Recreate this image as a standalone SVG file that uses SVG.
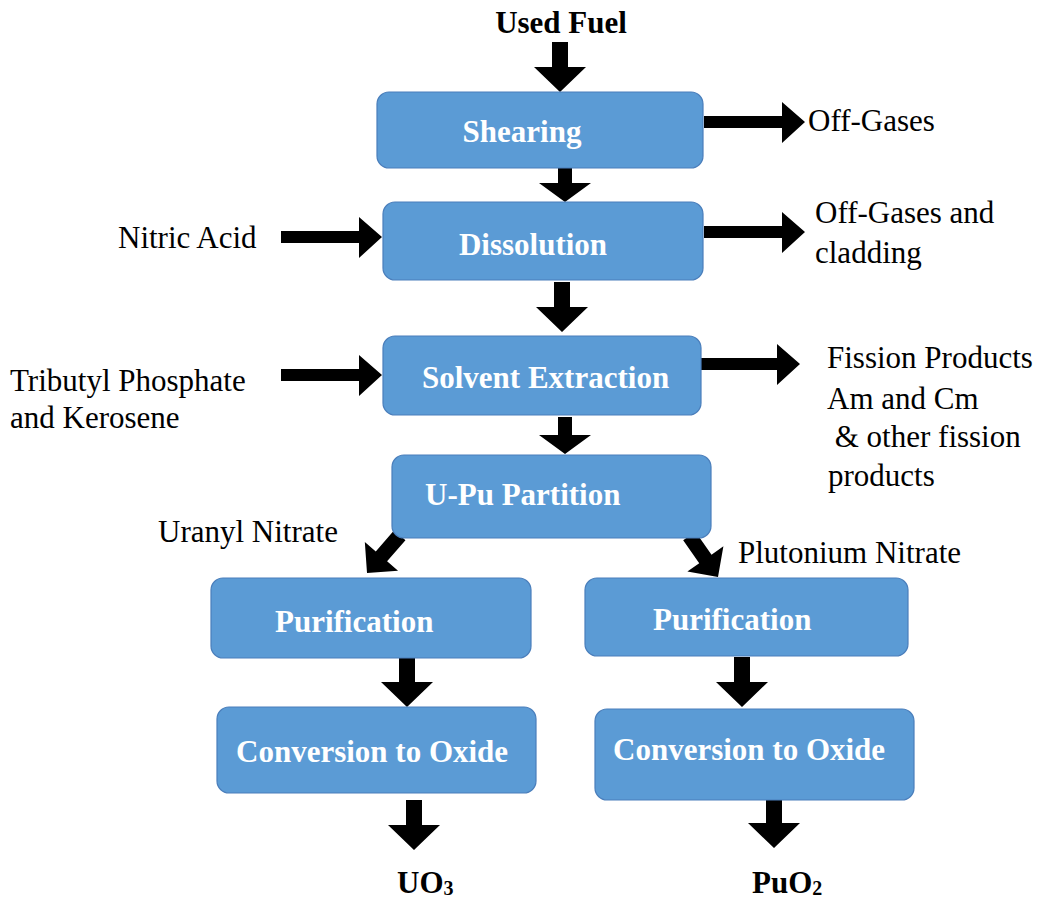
<svg xmlns="http://www.w3.org/2000/svg" width="1043" height="900" viewBox="0 0 1043 900">
  <style>
    .box { fill: #5B9BD5; stroke: #4A7EBB; stroke-width: 1.2; }
    .lbl { font-family: "Liberation Serif", Tinos, "Times New Roman", "DejaVu Serif", serif; font-size: 31px; font-weight: bold; fill: #FFFFFF; }
    .txt { font-family: "Liberation Serif", Tinos, "Times New Roman", "DejaVu Serif", serif; font-size: 31px; font-weight: normal; fill: #000000; }
    .bold { font-weight: bold; }
    .arrow { fill: #000000; }
  </style>
  <defs>
    <!-- block arrow pointing down (+y), tip at origin -->
    <path id="arrowV" d="M -8,-50 L 8,-50 L 8,-25 L 26,-25 L 0,0 L -26,-25 L -8,-25 Z"/>
    <path id="arrowShort" d="M -7,-37 L 7,-37 L 7,-19 L 26,-19 L 0,0 L -26,-19 L -7,-19 Z"/>
    <path id="arrowDiag" d="M -7.5,-50 L 7.5,-50 L 7.5,-22 L 22,-22 L 0,0 L -22,-22 L -7.5,-22 Z"/>
    <!-- block arrow pointing right (+x), tip at origin -->
    <path id="arrowH" d="M -101,-6 L -23,-6 L -23,-20 L 0,0 L -23,21 L -23,6 L -101,6 Z"/>
  </defs>

  <!-- connectors -->
  <g id="connectors" class="arrow">
    <use href="#arrowV" transform="translate(560,92)"/>
    <use href="#arrowShort" transform="translate(565,202)"/>
    <use href="#arrowV" transform="translate(562,332)"/>
    <use href="#arrowShort" transform="translate(565,454)"/>
    <use href="#arrowV" transform="translate(407,707)"/>
    <use href="#arrowV" transform="translate(414,850)"/>
    <use href="#arrowV" transform="translate(742,707)"/>
    <use href="#arrowV" transform="translate(774,848)"/>
    <use href="#arrowDiag" transform="translate(367,573) rotate(41)"/>
    <use href="#arrowDiag" transform="translate(718,577) rotate(-35)"/>
    <use href="#arrowH" transform="translate(805,122)"/>
    <use href="#arrowH" transform="translate(805,232)"/>
    <use href="#arrowH" transform="translate(382,237)"/>
    <use href="#arrowH" transform="translate(382,375)"/>
    <use href="#arrowH" transform="translate(800,364)"/>
  </g>

  <!-- process steps -->
  <g id="shearing">
    <rect class="box" x="377" y="92" width="326" height="76" rx="12"/>
    <text class="lbl" x="522" y="142" text-anchor="middle">Shearing</text>
  </g>
  <g id="dissolution">
    <rect class="box" x="383" y="202" width="320" height="78" rx="12"/>
    <text class="lbl" x="533" y="255" text-anchor="middle">Dissolution</text>
  </g>
  <g id="solvent-extraction">
    <rect class="box" x="383" y="336" width="318" height="79" rx="12"/>
    <text class="lbl" x="422" y="388">Solvent Extraction</text>
  </g>
  <g id="u-pu-partition">
    <rect class="box" x="392" y="455" width="319" height="83" rx="12"/>
    <text class="lbl" x="425" y="505">U-Pu Partition</text>
  </g>
  <g id="purification-u">
    <rect class="box" x="211" y="578" width="320" height="80" rx="12"/>
    <text class="lbl" x="275" y="632">Purification</text>
  </g>
  <g id="conversion-u">
    <rect class="box" x="217" y="707" width="319" height="86" rx="12"/>
    <text class="lbl" x="236" y="762">Conversion to Oxide</text>
  </g>
  <g id="purification-pu">
    <rect class="box" x="585" y="578" width="323" height="78" rx="12"/>
    <text class="lbl" x="653" y="630">Purification</text>
  </g>
  <g id="conversion-pu">
    <rect class="box" x="595" y="709" width="319" height="91" rx="12"/>
    <text class="lbl" x="613" y="760">Conversion to Oxide</text>
  </g>

  <!-- inputs and outputs -->
  <g id="used-fuel">
    <text class="txt bold" x="561" y="33" text-anchor="middle">Used Fuel</text>
  </g>
  <g id="off-gases">
    <text class="txt" x="808" y="131">Off-Gases</text>
  </g>
  <g id="off-gases-cladding">
    <text class="txt" x="815" y="223">Off-Gases and</text>
    <text class="txt" x="815" y="263">cladding</text>
  </g>
  <g id="nitric-acid">
    <text class="txt" x="118" y="248">Nitric Acid</text>
  </g>
  <g id="tbp-kerosene">
    <text class="txt" x="10" y="391">Tributyl Phosphate</text>
    <text class="txt" x="10" y="428">and Kerosene</text>
  </g>
  <g id="fission-products">
    <text class="txt" x="827" y="368">Fission Products</text>
    <text class="txt" x="827" y="409">Am and Cm</text>
    <text class="txt" x="827" y="447" xml:space="preserve"> &amp; other fission</text>
    <text class="txt" x="828" y="486">products</text>
  </g>
  <g id="uranyl-nitrate">
    <text class="txt" x="158" y="542">Uranyl Nitrate</text>
  </g>
  <g id="plutonium-nitrate">
    <text class="txt" x="738" y="563">Plutonium Nitrate</text>
  </g>
  <g id="uo3">
    <text class="txt bold" x="397" y="893">UO<tspan font-size="20" dy="2">3</tspan></text>
  </g>
  <g id="puo2">
    <text class="txt bold" x="752" y="893">PuO<tspan font-size="20" dy="2">2</tspan></text>
  </g>
</svg>
